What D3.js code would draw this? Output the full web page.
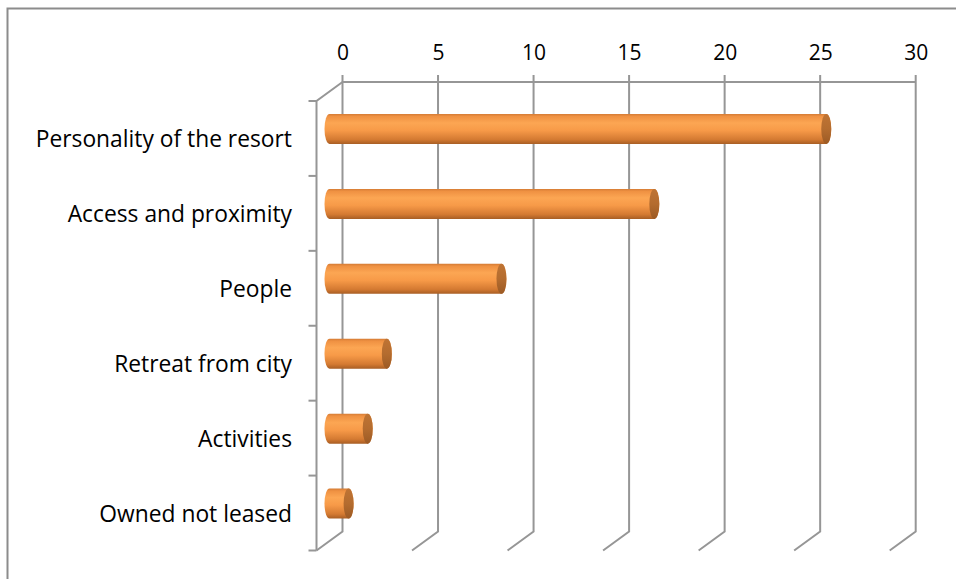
<!DOCTYPE html>
<html>
<head>
<meta charset="utf-8">
<script src="https://cdn.jsdelivr.net/npm/d3@7"></script>
<style>
  html, body { margin: 0; padding: 0; background: #fff; }
  svg { display: block; }
  text { font-family: "Open Sans", Lato, sans-serif; fill: #000; }
</style>
</head>
<body>
<svg id="chart" width="956" height="579"></svg>
<script>
// Reasons for choosing the resort (count of responses)
const categories = [
  "Personality of the resort",
  "Access and proximity",
  "People",
  "Retreat from city",
  "Activities",
  "Owned not leased"
];
const values = [26, 17, 9, 3, 2, 1];
const tickValues = [0, 5, 10, 15, 20, 25, 30];

const svg = d3.select("#chart");
const fontFamily = "'Open Sans', Lato, sans-serif";

// Outer chart-area frame
svg.append("rect")
  .attr("x", 7.5).attr("y", 8.5)
  .attr("width", 980).attr("height", 620)
  .attr("fill", "#fff")
  .attr("stroke", "#8c8c8c").attr("stroke-width", 2);

// 3-D box: back wall plus an oblique depth offset toward the viewer
const depth = { dx: -26, dy: 19 };
const wallTop = 82, wallBottom = 531.5;

const x = d3.scaleLinear().domain([0, 30]).range([342.5, 915.7]);
const y = d3.scaleBand().domain(categories)
  .range([wallTop + depth.dy, wallBottom + depth.dy]);

const gridColor = "#969696";
const grid = svg.append("g")
  .attr("stroke", gridColor).attr("stroke-width", 2).attr("fill", "none");

// Vertical gridlines on the back wall, each with a floor segment
tickValues.forEach(v => {
  const gx = x(v);
  grid.append("path")
    .attr("d", `M${gx},${wallTop - 7}V${wallBottom}l${depth.dx},${depth.dy}`);
});
// Top edge of the back wall
grid.append("line")
  .attr("x1", x(0)).attr("x2", x(30))
  .attr("y1", wallTop).attr("y2", wallTop);

// Side wall edge (category axis) with its top bevel
const frontX = x(0) + depth.dx;
grid.append("path")
  .attr("d", `M${x(0)},${wallTop}L${frontX},${wallTop + depth.dy}V${wallBottom + depth.dy}`);

// Category ticks at band boundaries
const bounds = categories.map(c => y(c)).concat([y.range()[1]]);
bounds.forEach(b => {
  grid.append("line")
    .attr("x1", frontX - 8).attr("x2", frontX)
    .attr("y1", b).attr("y2", b);
});

// Value axis labels along the top
const axisG = svg.append("g")
  .attr("transform", `translate(0,${wallTop})`)
  .call(d3.axisTop(x).tickValues(tickValues).tickSize(0).tickPadding(22));
axisG.select(".domain").remove();
axisG.selectAll("text")
  .style("font-family", fontFamily)
  .attr("font-size", 21);

// Category labels
svg.append("g").selectAll("text")
  .data(categories)
  .join("text")
  .attr("x", 292)
  .attr("y", d => y(d) + y.bandwidth() / 2 + 9)
  .attr("text-anchor", "end")
  .attr("font-size", 22.8)
  .text(d => d);

// Cylinder shading
const defs = svg.append("defs");
const body = defs.append("linearGradient")
  .attr("id", "cylBody").attr("x1", 0).attr("y1", 0).attr("x2", 0).attr("y2", 1);
[
  [0, "#d47b34"], [0.08, "#ef9142"], [0.3, "#fca653"],
  [0.55, "#f79a48"], [0.85, "#d47a32"], [1, "#a85e24"]
].forEach(([o, c]) => body.append("stop").attr("offset", o).attr("stop-color", c));

const cap = defs.append("linearGradient")
  .attr("id", "cylCap").attr("x1", 0).attr("y1", 0).attr("x2", 0).attr("y2", 1);
[[0, "#bf7434"], [0.5, "#b46c2f"], [1, "#9c5a24"]]
  .forEach(([o, c]) => cap.append("stop").attr("offset", o).attr("stop-color", c));

// Bars sit halfway into the depth of the box
const midX = depth.dx / 2, midY = depth.dy / 2;
const r = 15, rx = 5;
const bars = svg.append("g");
categories.forEach((c, i) => {
  const cy = y(c) + y.bandwidth() / 2 - midY;
  const x0 = x(0) + midX;
  const x1 = x(values[i]) + midX;
  bars.append("path")
    .attr("d", `M${x0},${cy - r}H${x1}A${rx},${r} 0 0 1 ${x1},${cy + r}H${x0}A${rx},${r} 0 0 1 ${x0},${cy - r}Z`)
    .attr("fill", "url(#cylBody)");
  bars.append("ellipse")
    .attr("cx", x1).attr("cy", cy)
    .attr("rx", rx).attr("ry", r)
    .attr("fill", "url(#cylCap)");
});
</script>
</body>
</html>
